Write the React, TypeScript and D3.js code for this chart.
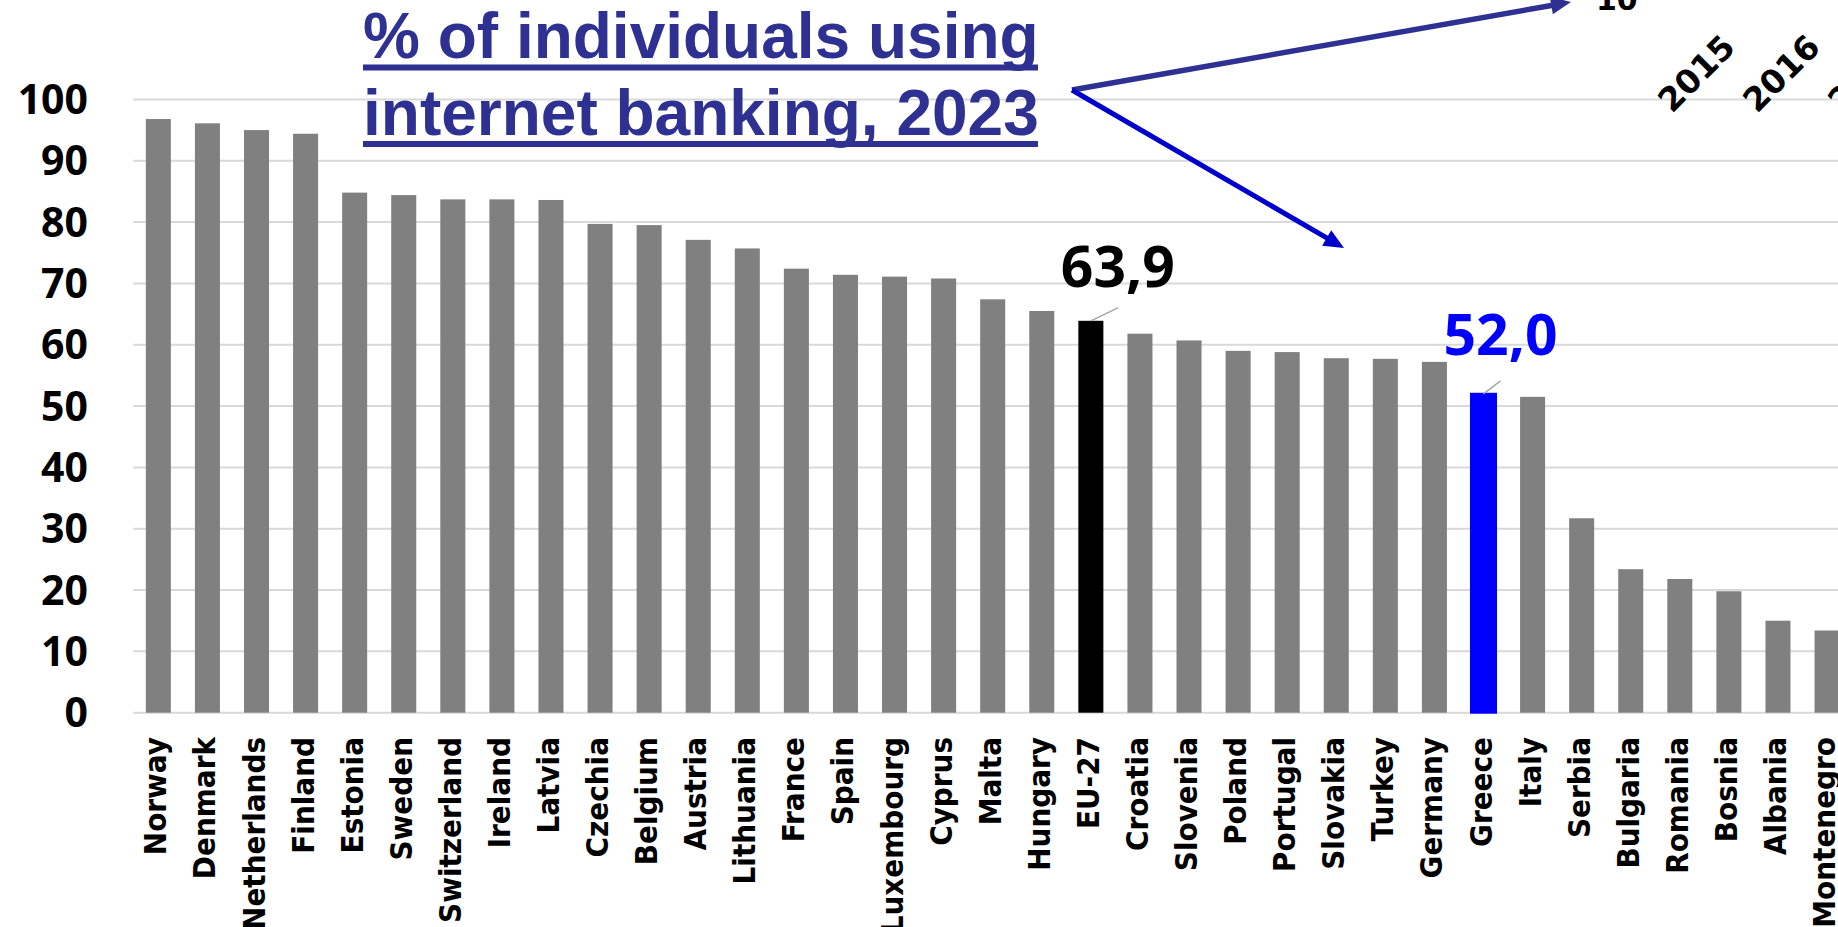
import React from 'react';
import * as d3 from 'd3';

const countries = [
  'Norway', 'Denmark', 'Netherlands', 'Finland', 'Estonia', 'Sweden', 'Switzerland',
  'Ireland', 'Latvia', 'Czechia', 'Belgium', 'Austria', 'Lithuania', 'France', 'Spain',
  'Luxembourg', 'Cyprus', 'Malta', 'Hungary', 'EU-27', 'Croatia', 'Slovenia', 'Poland',
  'Portugal', 'Slovakia', 'Turkey', 'Germany', 'Greece', 'Italy', 'Serbia', 'Bulgaria',
  'Romania', 'Bosnia', 'Albania', 'Montenegro',
];

const values = [
  96.8, 96.1, 95.0, 94.4, 84.8, 84.4, 83.7,
  83.7, 83.6, 79.7, 79.5, 77.1, 75.7, 72.4, 71.4,
  71.1, 70.8, 67.4, 65.5, 63.9, 61.8, 60.7, 59.0,
  58.8, 57.8, 57.7, 57.2, 52.0, 51.5, 31.7, 23.4,
  21.8, 19.8, 15.0, 13.4,
];

const yTicks = [0, 10, 20, 30, 40, 50, 60, 70, 80, 90, 100];

const highlightColors: Record<string, string> = { 'EU-27': '#000000', Greece: '#0000FF' };

const dataLabels = [
  { country: 'EU-27', text: '63,9', color: '#000000', dx: 27, dy: -34 },
  { country: 'Greece', text: '52,0', color: '#0000FF', dx: 17, dy: -39 },
];

const titleLines = ['% of individuals using', 'internet banking, 2023'];
const yearLabels = ['2015', '2016', '2017'];
const topLabel = '10';

const W = 1838;
const H = 927;
const TITLE_COLOR = '#2E3192';

function arrowPath(x0: number, y0: number, x1: number, y1: number, w: number, hl: number, hw: number) {
  const dx = x1 - x0;
  const dy = y1 - y0;
  const len = Math.hypot(dx, dy);
  const ux = dx / len;
  const uy = dy / len;
  const px = -uy;
  const py = ux;
  const bx = x1 - ux * hl;
  const by = y1 - uy * hl;
  const pts = [
    [x0 + px * w / 2, y0 + py * w / 2],
    [bx + px * w / 2, by + py * w / 2],
    [bx + px * hw / 2, by + py * hw / 2],
    [x1, y1],
    [bx - px * hw / 2, by - py * hw / 2],
    [bx - px * w / 2, by - py * w / 2],
    [x0 - px * w / 2, y0 - py * w / 2],
  ];
  return 'M' + pts.map((p) => p.join(',')).join('L') + 'Z';
}

export default function App() {
  const x = d3
    .scaleBand<string>()
    .domain(countries)
    .range([133.8, 1851.6])
    .paddingInner(0.49)
    .paddingOuter(0.245);
  const y = d3.scaleLinear().domain([0, 100]).range([712.7, 99.4]);

  const bw = x.bandwidth();
  const cx = (c: string) => (x(c) as number) + bw / 2;

  const arrows = [
    { from: [1072, 90], to: [1571, 2], color: TITLE_COLOR, w: 5.5 },
    { from: [1072, 90], to: [1344, 248], color: '#0000CC', w: 5 },
  ];

  return (
    <svg
      width={W}
      height={H}
      viewBox={`0 0 ${W} ${H}`}
      style={{ position: 'absolute', left: 0, top: 0, display: 'block', background: '#fff' }}
    >
      <rect x={0} y={0} width={W} height={H} fill="#ffffff" />
      {yTicks.map((t) => (
        <line key={'g' + t} x1={133.3} x2={W} y1={y(t)} y2={y(t)} stroke="#D9D9D9" strokeWidth={2} />
      ))}
      {yTicks.map((t) => (
        <text
          key={'yl' + t}
          x={88}
          y={y(t)}
          dy="0.36em"
          textAnchor="end"
          fontFamily="'Open Sans', 'Noto Sans', sans-serif"
          fontWeight={700}
          fontSize={41}
          fill="#000"
        >
          {t}
        </text>
      ))}
      {countries.map((c, i) => {
        const col = highlightColors[c] || '#808080';
        return (
          <rect
            key={'b' + c}
            x={x(c) as number}
            y={y(values[i])}
            width={bw}
            height={y(0) - y(values[i])}
            fill={col}
            stroke={c === 'Greece' ? '#0000FF' : 'none'}
            strokeWidth={c === 'Greece' ? 2 : 0}
          />
        );
      })}
      {countries.map((c) => (
        <text
          key={'xl' + c}
          transform={`translate(${cx(c) + 8},737) rotate(-90) scale(0.9,1)`}
          textAnchor="end"
          fontFamily="'DejaVu Sans', Verdana, sans-serif"
          fontWeight={700}
          fontSize={31}
          fill="#000"
        >
          {c}
        </text>
      ))}
      {dataLabels.map((d) => {
        const i = countries.indexOf(d.country);
        const bx = cx(d.country);
        const by = y(values[i]);
        const lx = bx + d.dx;
        const ly = by + d.dy;
        return (
          <g key={'dl' + d.country}>
            <line x1={bx} y1={by} x2={bx + d.dx} y2={by - 13} stroke="#A6A6A6" strokeWidth={1.5} />
            <text
              x={lx}
              y={ly}
              textAnchor="middle"
              fontFamily="'Open Sans', 'Noto Sans', sans-serif"
              fontWeight={700}
              fontSize={57}
              fill={d.color}
            >
              {d.text}
            </text>
          </g>
        );
      })}
      {titleLines.map((t, i) => (
        <g key={'t' + i}>
          <text
            x={363}
            y={57.5 + i * 77.5}
            fontFamily="'Liberation Sans', Arial, sans-serif"
            fontWeight={700}
            fontSize={64}
            fill={TITLE_COLOR}
          >
            {t}
          </text>
          <rect x={363} y={64.5 + i * 76.5} width={675} height={6} fill={TITLE_COLOR} />
        </g>
      ))}
      {arrows.map((a, i) => (
        <path
          key={'a' + i}
          d={arrowPath(a.from[0], a.from[1], a.to[0], a.to[1], a.w, 20, 18)}
          fill={a.color}
        />
      ))}
      <text
        x={1596}
        y={9.5}
        fontFamily="'DejaVu Sans', Verdana, sans-serif"
        fontWeight={700}
        fontSize={30}
        fill="#000"
      >
        {topLabel}
      </text>
      {yearLabels.map((yl, i) => (
        <text
          key={'yr' + yl}
          transform={`translate(${1672 + i * 85},114) rotate(-45)`}
          fontFamily="'DejaVu Sans', Verdana, sans-serif"
          fontWeight={700}
          fontSize={33}
          fill="#000"
        >
          {yl}
        </text>
      ))}
    </svg>
  );
}
